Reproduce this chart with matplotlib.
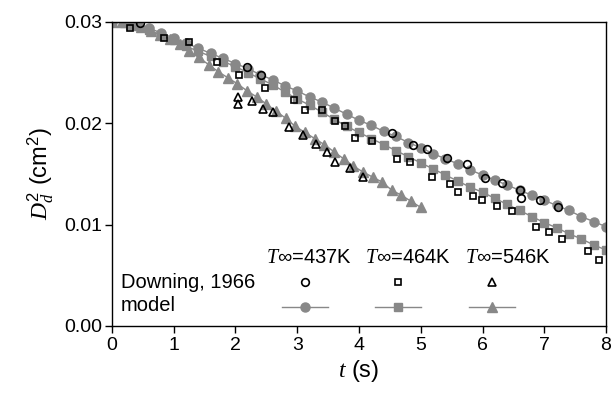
import numpy as np
import matplotlib
matplotlib.use('Agg')
import matplotlib.pyplot as plt

plt.rcParams['font.family'] = ['Liberation Sans', 'DejaVu Sans']
plt.rcParams['mathtext.fontset'] = 'custom'
plt.rcParams['mathtext.rm'] = 'Liberation Sans'
plt.rcParams['mathtext.it'] = 'Liberation Serif:italic'

# model curves
t_model = [0.0, 0.2, 0.4, 0.6, 0.8, 1.0, 1.2, 1.4, 1.6, 1.8, 2.0, 2.2, 2.4, 2.6, 2.8,
           3.0, 3.2, 3.4, 3.6, 3.8, 4.0, 4.2, 4.4, 4.6, 4.8, 5.0, 5.2, 5.4, 5.6, 5.8,
           6.0, 6.2, 6.4, 6.6, 6.8, 7.0, 7.2, 7.4, 7.6, 7.8, 8.0]
d2_437 = [0.0300, 0.0300, 0.0298, 0.0294, 0.0289, 0.0284, 0.0279, 0.0274, 0.0269, 0.0264,
          0.0259, 0.0254, 0.0248, 0.0243, 0.0237, 0.0232, 0.0226, 0.0221, 0.0215, 0.0209,
          0.0203, 0.0198, 0.0192, 0.0187, 0.0181, 0.0176, 0.0170, 0.0165, 0.0160, 0.0154,
          0.0149, 0.0144, 0.0139, 0.0134, 0.0129, 0.0124, 0.0119, 0.0114, 0.0108, 0.0103,
          0.0098]
d2_464 = [0.0300, 0.0299, 0.0296, 0.0292, 0.0287, 0.0282, 0.0276, 0.0271, 0.0266, 0.0261,
          0.0256, 0.0250, 0.0244, 0.0238, 0.0231, 0.0224, 0.0218, 0.0211, 0.0204, 0.0197,
          0.0191, 0.0185, 0.0179, 0.0173, 0.0167, 0.0161, 0.0155, 0.0149, 0.0143, 0.0137,
          0.0132, 0.0126, 0.0120, 0.0114, 0.0108, 0.0102, 0.0097, 0.0091, 0.0086, 0.0080,
          0.0075]
t_model_546 = [0.0, 0.156, 0.313, 0.469, 0.625, 0.781, 0.938, 1.094, 1.25, 1.406, 1.563,
               1.719, 1.875, 2.031, 2.188, 2.344, 2.5, 2.656, 2.813, 2.969, 3.125, 3.281,
               3.438, 3.594, 3.75, 3.906, 4.063, 4.219, 4.375, 4.531, 4.688, 4.844, 5.0]
d2_546 = [0.0300, 0.0300, 0.0298, 0.0295, 0.0291, 0.0287, 0.0283, 0.0278, 0.0271, 0.0265,
          0.0258, 0.0251, 0.0245, 0.0239, 0.0232, 0.0226, 0.0219, 0.0212, 0.0205, 0.0197,
          0.0191, 0.0185, 0.0179, 0.0172, 0.0165, 0.0158, 0.0152, 0.0147, 0.0142, 0.0134,
          0.0129, 0.0123, 0.0117]

# Downing, 1966 experiments
t_exp_437 = [0.45, 2.18, 2.42, 4.53, 4.88, 5.10, 5.42, 5.75, 6.04, 6.31, 6.61, 6.63, 6.93, 7.23]
d2_exp_437 = [0.0299, 0.0256, 0.0248, 0.0190, 0.0179, 0.0175, 0.0166, 0.0160, 0.0146,
              0.0141, 0.0134, 0.0126, 0.0124, 0.0117]
t_exp_464 = [0.29, 0.85, 1.25, 1.70, 2.06, 2.48, 2.94, 3.13, 3.40, 3.61, 3.77, 3.94, 4.21,
             4.61, 4.83, 5.18, 5.47, 5.61, 5.85, 5.99, 6.23, 6.47, 6.87, 7.07, 7.28, 7.71, 7.88]
d2_exp_464 = [0.0294, 0.0284, 0.0280, 0.0261, 0.0248, 0.0235, 0.0223, 0.0213, 0.0213,
              0.0202, 0.0197, 0.0186, 0.0183, 0.0165, 0.0162, 0.0147, 0.0140, 0.0132,
              0.0128, 0.0124, 0.0118, 0.0113, 0.0098, 0.0093, 0.0086, 0.0074, 0.0065]
t_exp_546 = [2.04, 2.04, 2.26, 2.44, 2.61, 2.87, 3.09, 3.30, 3.48, 3.61, 3.86, 4.06]
d2_exp_546 = [0.0226, 0.0219, 0.0222, 0.0214, 0.0211, 0.0196, 0.0188, 0.0180, 0.0172,
              0.0162, 0.0156, 0.0147]

labels = [r'$T\infty$=437K', r'$T\infty$=464K', r'$T\infty$=546K']
markers = ['o', 's', '^']
model_ms = [6.5, 5.5, 7.0]
exp_ms = [5.5, 4.8, 5.5]
gray = '#888888'

fig = plt.figure(figsize=(6.13, 3.94), dpi=100)
ax = fig.add_axes([0.1827, 0.1726, 0.8059, 0.7716])

models = [(t_model, d2_437), (t_model, d2_464), (t_model_546, d2_546)]
exps = [(t_exp_437, d2_exp_437), (t_exp_464, d2_exp_464), (t_exp_546, d2_exp_546)]

for (tm, dm), m, ms in zip(models, markers, model_ms):
    ax.plot(tm, dm, color=gray, lw=1, marker=m, ms=ms, mfc=gray, mec=gray, zorder=2)
for (te, de), m, ms in zip(exps, markers, exp_ms):
    ax.plot(te, de, ls='none', marker=m, ms=ms, mfc='none', mec='black', mew=1.2, zorder=3)

ax.set_xlim(0, 8)
ax.set_ylim(0, 0.03)
ax.set_xticks(range(9))
ax.set_yticks([0.0, 0.01, 0.02, 0.03])
ax.set_yticklabels(['0.00', '0.01', '0.02', '0.03'])
ax.tick_params(direction='out', length=5, width=1, labelsize=14, pad=3)
ax.tick_params(axis='y', pad=2)
for s in ax.spines.values():
    s.set_linewidth(1)
ax.set_xlabel(r'$t$ (s)', fontsize=17, labelpad=3)
ax.set_ylabel(r'$D_d^2$ (cm$^2$)', fontsize=17, labelpad=6)

# table-like legend
tr = ax.transAxes
def ax_x(px):
    return (px - 112) / 494.0
def ax_y(py):
    return (326 - py) / 304.0

ax.text(ax_x(121), ax_y(283), 'Downing, 1966', fontsize=14.5, va='center', ha='left', transform=tr)
ax.text(ax_x(121), ax_y(306), 'model', fontsize=14.5, va='center', ha='left', transform=tr)
col_x = [305, 398, 492]
head_x = [266, 365, 465]
for cx, hx, lab, m, ms, ems in zip(col_x, head_x, labels, markers, model_ms, exp_ms):
    ax.text(ax_x(hx), ax_y(258), lab, fontsize=14.5, va='center', ha='left', transform=tr)
    ax.plot([ax_x(cx)], [ax_y(282)], ls='none', marker=m, ms=ems, mfc='none', mec='black',
            mew=1.2, transform=tr, clip_on=False)
    ax.plot([ax_x(cx - 23), ax_x(cx + 23)], [ax_y(307), ax_y(307)], color=gray, lw=1,
            transform=tr, clip_on=False)
    ax.plot([ax_x(cx)], [ax_y(307)], ls='none', marker=m, ms=ms, color=gray,
            transform=tr, clip_on=False)

fig.savefig('out.png', dpi=100)
